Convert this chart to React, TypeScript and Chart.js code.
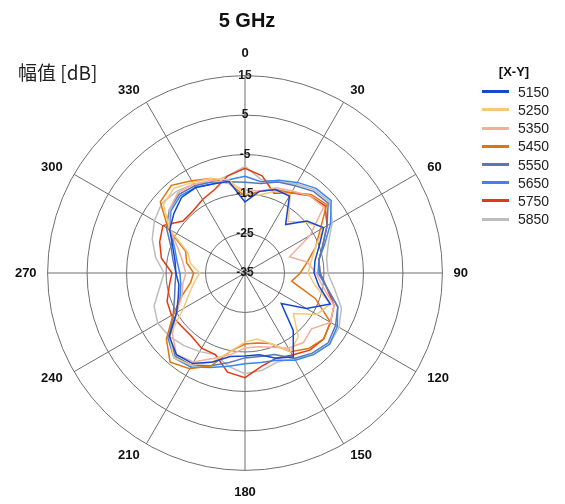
import React, { useEffect, useRef } from 'react';
import { Chart, registerables } from 'chart.js';

Chart.register(...registerables);

const angleLabels = ['0', '10', '20', '30', '40', '50', '60', '70', '80', '90', '100', '110', '120', '130', '140', '150', '160', '170', '180', '190', '200', '210', '220', '230', '240', '250', '260', '270', '280', '290', '300', '310', '320', '330', '340', '350'];

const seriesNames = ['5150', '5250', '5350', '5450', '5550', '5650', '5750', '5850'];

const s5150 = [-17, -14, -12.5, -12.5, -19, -14.5, -12, -15, -17, -17.5, -16, -12, -17, -23, -16, -10.5, -12, -14, -14, -13.5, -11, -8.5, -8, -10, -15, -17, -18, -17.5, -17, -15.5, -13, -11.5, -10, -10, -11, -11.5];
const s5250 = [-15, -15, -13, -12, -18, -15, -12, -16, -18, -19, -17, -12, -14, -19, -14, -12, -16, -18, -17.5, -15, -11, -8, -7, -10, -17, -20, -22, -23.5, -21, -19.5, -13, -8, -7, -8.5, -9.5, -11];
const s5350 = [-14, -14, -12, -11, -9.5, -9, -16, -23, -19, -17, -15, -11, -10, -13, -12, -13, -15, -16, -16, -14, -12, -9, -8, -11, -15, -18, -19, -20, -19, -17, -13, -10, -8.5, -9, -10, -12];
const s5450 = [-15.5, -14, -12.5, -11.5, -9, -8, -13, -16, -19, -21, -23, -16, -10, -9, -10, -12, -16, -17, -17, -15, -10, -7, -5.5, -9, -14, -18, -21, -22, -20, -19, -12.5, -7, -6, -8, -9.5, -12];
const s5550 = [-12, -12, -10.5, -9.5, -8, -7.5, -11, -14, -16, -16, -14, -10, -8.5, -7.5, -8.5, -10, -13, -13.5, -13.5, -12, -10, -8, -7.5, -10, -14, -16, -17, -17.5, -16.5, -15, -12, -10, -9, -9.5, -10.5, -11.5];
const s5650 = [-10.5, -11.5, -10, -8.5, -7, -6.5, -10, -13.5, -16, -16.5, -14, -10, -8, -7, -8, -9.5, -11.5, -12, -12, -11, -9.5, -7.5, -7, -9.5, -15, -17.5, -18.5, -18.5, -17.5, -16, -13, -10.5, -9.5, -10, -11, -11];
const s5750 = [-8.5, -10, -13.5, -11.5, -9.5, -8.5, -11, -14, -16, -16, -14, -11, -10, -9, -9.5, -11, -12, -11, -8.5, -9.5, -13, -13, -14, -14, -13.5, -14, -15.5, -16.5, -13.5, -12, -11, -14.5, -14.5, -13.5, -12.5, -10];
const s5850 = [-8, -11, -10.5, -9, -7.5, -7, -9.5, -12.5, -14, -14, -12, -9, -7.5, -7, -8, -10, -11, -10, -9.5, -11, -13, -12, -11, -10, -9.5, -10.5, -13, -14.5, -12, -10, -8.5, -7.5, -8, -9, -10.5, -10];

const seriesValues = [s5150, s5250, s5350, s5450, s5550, s5650, s5750, s5850];
const seriesColors = ['#1646d4', '#f6c87a', '#f2ae9c', '#e1740c', '#5878b4', '#3a86ee', '#e4380e', '#bdbdbd'];

const FONT = '"Liberation Sans", Arial, Helvetica, sans-serif';

export default function App() {
  const ref = useRef<HTMLCanvasElement>(null);

  useEffect(() => {
    if (!ref.current) return;
    const chart = new Chart(ref.current, {
      type: 'radar',
      data: {
        labels: angleLabels,
        datasets: seriesNames.map((name, i) => ({
          label: name,
          data: seriesValues[i],
          borderColor: seriesColors[i],
          backgroundColor: seriesColors[i],
          borderWidth: 1.5,
          fill: false,
          pointRadius: 0,
          tension: 0,
        })),
      },
      options: {
        responsive: false,
        animation: false,
        layout: { padding: { left: 17, right: 3, top: 47, bottom: 19 } },
        plugins: {
          legend: { display: false },
          tooltip: { enabled: false },
          title: { display: false },
        },
        scales: {
          r: {
            min: -35,
            max: 15,
            ticks: {
              stepSize: 10,
              showLabelBackdrop: false,
              color: '#1a1a1a',
              z: 1,
              font: { family: FONT, size: 12, weight: 'bold' },
            },
            grid: { circular: true, color: '#6e6e6e', lineWidth: 1 },
            angleLines: {
              color: (ctx: any) => (ctx.index % 3 === 0 ? '#6e6e6e' : 'rgba(0,0,0,0)'),
              lineWidth: 1,
            },
            pointLabels: {
              callback: (label: string, index: number) => (index % 3 === 0 ? label : ''),
              padding: (ctx: any) => (ctx.index % 18 === 0 ? 6 : ctx.index % 9 === 0 ? 3 : 5),
              color: '#111',
              font: (ctx: any) => ({
                family: FONT,
                size: 13,
                weight: 'bold',
                lineHeight: ctx.index % 18 === 0 ? 1.2 : 0.1,
              }),
            },
          },
        },
      },
    });
    return () => chart.destroy();
  }, []);

  return (
    <div style={{ position: 'fixed', left: 0, top: 0, width: 565, height: 504, overflow: 'hidden', background: '#fff' }}>
      <canvas ref={ref} width={536} height={520} style={{ position: 'absolute', left: -30, top: 0 }} />
      <div style={{ position: 'absolute', left: 147, top: 8, width: 200, textAlign: 'center', font: `bold 20px ${FONT}`, lineHeight: '24px', color: '#111' }}>
        5 GHz
      </div>
      <div style={{ position: 'absolute', left: 18, top: 60, font: `19px "Noto Sans CJK SC", ${FONT}`, lineHeight: '23px', color: '#222', whiteSpace: 'nowrap' }}>
        幅值 [dB]
      </div>
      <div style={{ position: 'absolute', left: 464, top: 64, width: 100, textAlign: 'center', font: `bold 13px ${FONT}`, lineHeight: '16px', color: '#111' }}>
        [X-Y]
      </div>
      {seriesNames.map((name, i) => (
        <div key={name} style={{ position: 'absolute', left: 478, top: 83.7 + 18.2 * i, height: 16, width: 90 }}>
          <div style={{ position: 'absolute', left: 4, top: 6.5, width: 27, height: 3, background: seriesColors[i] }} />
          <div style={{ position: 'absolute', left: 40, top: 0, font: `14px ${FONT}`, lineHeight: '16px', color: '#222' }}>{name}</div>
        </div>
      ))}
    </div>
  );
}
